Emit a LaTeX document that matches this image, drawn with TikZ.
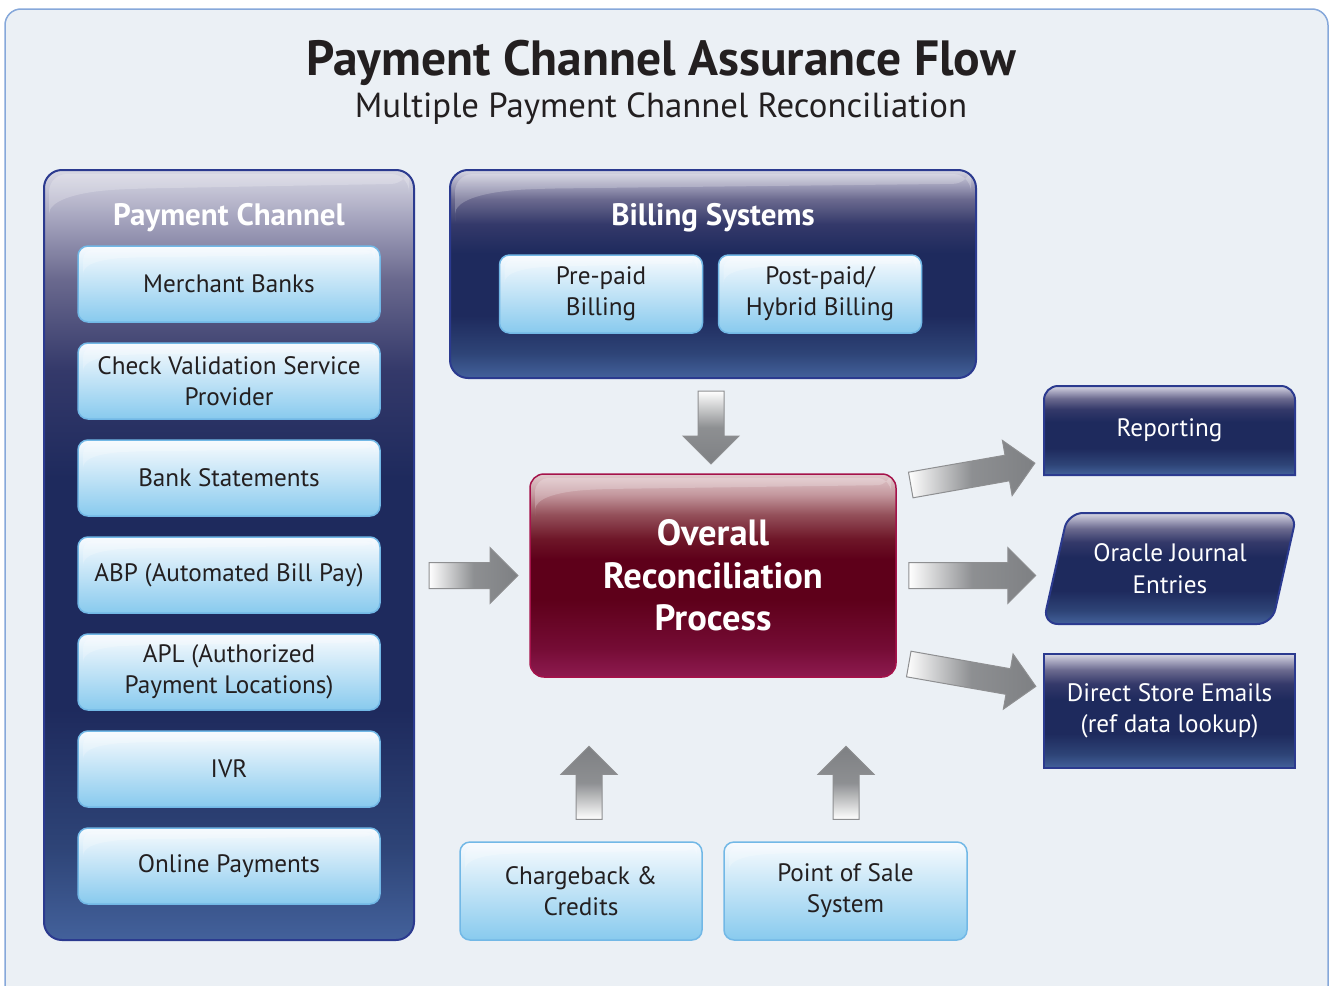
\documentclass[tikz,border=0pt]{standalone}
\usepackage{fontspec}
\setmainfont{PT Sans}
\usetikzlibrary{calc,positioning,shapes.geometric}

\definecolor{pagebg}{HTML}{EBF0F5}
\definecolor{frameblue}{HTML}{86A8DA}
\definecolor{navyedge}{HTML}{2B3A8F}
\definecolor{navyA}{HTML}{D8D8E4}
\definecolor{navyB}{HTML}{A8A7C0}
\definecolor{navyC}{HTML}{6B6A8F}
\definecolor{navyD}{HTML}{34396A}
\definecolor{navyE}{HTML}{1E2A5D}
\definecolor{navyF}{HTML}{2E4477}
\definecolor{navyG}{HTML}{43619B}
\definecolor{skyedge}{HTML}{72B8E6}
\definecolor{skytop}{HTML}{F8FBFE}
\definecolor{skybot}{HTML}{88CAEE}
\definecolor{rededge}{HTML}{A5124A}
\definecolor{redA}{HTML}{E2CACD}
\definecolor{redB}{HTML}{C4989E}
\definecolor{redC}{HTML}{94505A}
\definecolor{redD}{HTML}{6E1628}
\definecolor{redE}{HTML}{5E001A}
\definecolor{redF}{HTML}{750C35}
\definecolor{redG}{HTML}{8E1A50}
\definecolor{arrowgray}{HTML}{7E8083}
\definecolor{arrowedge}{HTML}{8E8F91}
\definecolor{inktext}{HTML}{231F20}

\pgfdeclareverticalshading{navyglass}{100bp}{color(0bp)=(navyG); color(25bp)=(navyG);
  color(31bp)=(navyF); color(40bp)=(navyE); color(55bp)=(navyE); color(62bp)=(navyD);
  color(68bp)=(navyC); color(72bp)=(navyB); color(75bp)=(navyA); color(100bp)=(navyA)}
\pgfdeclareverticalshading{redglass}{100bp}{color(0bp)=(redG); color(25bp)=(redG);
  color(32bp)=(redF); color(44bp)=(redE); color(54bp)=(redE); color(59bp)=(redD);
  color(65bp)=(redC); color(70bp)=(redB); color(75bp)=(redA); color(100bp)=(redA)}

% block arrow: [shade options](tail coordinate)(angle:length)
\def\fatarrow[#1](#2)(#3:#4){\shade[draw=arrowedge, line width=1pt, #1]
  ($(#2)+({#3-90}:13)$) -- ($(#2)+({#3}:{#4-28})+({#3-90}:13)$) -- ($(#2)+({#3}:{#4-28})+({#3-90}:28)$)
  -- ($(#2)+({#3}:{#4})$) -- ($(#2)+({#3}:{#4-28})+({#3+90}:28)$) -- ($(#2)+({#3}:{#4-28})+({#3+90}:13)$)
  -- ($(#2)+({#3+90}:13)$) -- cycle;}

\tikzset{
  gloss/.style={path picture={
    \fill[white, fill opacity=.22]
      ($(path picture bounding box.north west)+(5,-4)$) -- ($(path picture bounding box.north east)+(-5,-4)$)
      -- ($(path picture bounding box.north east)+(-5,{-0.22*#1})$)
      -- ($(path picture bounding box.north west)+({1.5*#1},{-0.3*#1})$)
      .. controls ($(path picture bounding box.north west)+({0.5*#1},{-0.35*#1})$)
      and ($(path picture bounding box.north west)+(5,{-0.5*#1})$) .. ($(path picture bounding box.north west)+(5,-#1)$)
      -- cycle;}},
  skybox/.style={draw=skyedge, line width=1.5pt, rounded corners=10pt, top color=skytop, bottom color=skybot,
    text=inktext, align=center, inner sep=0pt, minimum width=302pt, minimum height=76pt,
    font=\fontsize{25.2}{31}\selectfont, gloss=38},
  navypanel/.style={draw=navyedge, line width=2pt, rounded corners=18pt, shading=navyglass, gloss=62},
  navybox/.style={draw=navyedge, line width=2pt, shading=navyglass},
  navytext/.style={text=white, align=center, inner sep=0pt, font=\fontsize{25.2}{31.5}\selectfont},
  paneltitle/.style={text=white, inner sep=0pt, font=\fontsize{31}{34}\selectfont\bfseries},
  redbox/.style={draw=rededge, line width=1.5pt, rounded corners=14pt, shading=redglass, text=white,
    align=center, inner sep=0pt, font=\fontsize{36.5}{42.5}\selectfont\bfseries, gloss=50},
  hshade/.style={left color=white, right color=arrowgray, middle color=arrowgray!88!white},
}

\begin{document}
\begin{tikzpicture}[x=1pt, y=1pt]
  %%%%% FRAME %%%%%
  \useasboundingbox (0,0) rectangle (1330,-985);
  \draw[frameblue, line width=1.5pt, fill=pagebg, rounded corners=16pt] (5,-9) rectangle (1328,-1010);

  \node (title) [anchor=base, inner sep=0pt, text=inktext, font=\fontsize{49.5}{52}\selectfont\bfseries]
    at (661,-75) {Payment Channel Assurance Flow};
  \node (subtitle) [anchor=base, inner sep=0pt, text=inktext, font=\fontsize{34.8}{38}\selectfont]
    at (661,-117) {Multiple Payment Channel Reconciliation};

  %%%%% PAYMENT CHANNEL %%%%%
  \node (channel) at (229,-555) [navypanel, minimum width=370pt, minimum height=770pt] {};
  \node (channeltitle) [paneltitle, anchor=base] at ([yshift=-56pt]channel.north) {Payment Channel};

  \node (merchant) at (229,-284) [skybox] {Merchant Banks};
  \node (checkval) [skybox, below=19.5pt of merchant] {Check Validation Service\\Provider};
  \node (statements) [skybox, below=19.5pt of checkval] {Bank Statements};
  \node (abp) [skybox, below=19.5pt of statements] {ABP (Automated Bill Pay)};
  \node (apl) [skybox, below=19.5pt of abp] {APL (Authorized\\Payment Locations)};
  \node (ivr) [skybox, below=19.5pt of apl] {IVR};
  \node (online) [skybox, below=19.5pt of ivr] {Online Payments};

  %%%%% BILLING %%%%%
  \node (billing) at (713,-274) [navypanel, minimum width=526pt, minimum height=208pt] {};
  \node (billingtitle) [paneltitle, anchor=base] at ([yshift=-56pt]billing.north) {Billing Systems};
  \node (prepaid) at (601,-294) [skybox, minimum width=203pt, minimum height=78pt] {Pre-paid\\Billing};
  \node (postpaid) at (820,-294) [skybox, minimum width=203pt, minimum height=78pt] {Post-paid/\\Hybrid Billing};

  %%%%% RECONCILIATION %%%%%
  \node (recon) at (713,-575.5) [redbox, minimum width=366pt, minimum height=203pt] {Overall\\Reconciliation\\Process};

  %%%%% OUTPUTS %%%%%
  \shade[navybox] (1044,-475) -- (1044,-400)
    arc[start angle=180, end angle=90, radius=14] -- (1281,-386)
    arc[start angle=90, end angle=0, radius=14] -- (1295,-475) -- cycle;
  \node (reporting) at (1169.5,-430.5) [navytext] {Reporting};
  \shade[navybox, rounded corners=15pt] (1043,-624) -- (1068,-513) -- (1297,-513) -- (1272,-624) -- cycle;
  \node (oracle) at (1170,-568.5) [navytext] {Oracle Journal\\Entries};
  \node (direct) at (1169.5,-711) [navybox, navytext, minimum width=251pt, minimum height=114pt]
    {Direct Store Emails\\(ref data lookup)};

  %%%%% FEEDS %%%%%
  \node (chargeback) at (581,-891) [skybox, minimum width=242pt, minimum height=98pt] {Chargeback \&\\Credits};
  \node (pos) at (845.5,-891) [skybox, minimum width=243pt, minimum height=98pt] {Point of Sale\\System};

  %%%%% ARROWS %%%%%
  \coordinate (taildown) at ($(billing.south)+(-2,-12)$);
  \coordinate (tailleft) at ($(channel.east |- recon.west)+(14,0)$);
  \coordinate (tailcharge) at ($(chargeback.north)+(8,22)$);
  \coordinate (tailpos) at ($(pos.north)+(0.5,22)$);
  \coordinate (tailreport) at ($(recon.east)+(14,90.5)$);
  \coordinate (tailoracle) at ($(recon.east)+(12,0)$);
  \coordinate (taildirect) at ($(recon.east)+(12,-88.5)$);

  \fatarrow[top color=white, bottom color=arrowgray, middle color=arrowgray!88!white](taildown)(-90:73)
  \fatarrow[hshade](tailleft)(0:89)
  \fatarrow[bottom color=white, top color=arrowgray, middle color=arrowgray!88!white](tailcharge)(90:73)
  \fatarrow[bottom color=white, top color=arrowgray, middle color=arrowgray!88!white](tailpos)(90:73)
  \fatarrow[hshade](tailreport)(10:126)
  \fatarrow[hshade](tailoracle)(0:127)
  \fatarrow[hshade](taildirect)(-10:129)
\end{tikzpicture}
\end{document}
